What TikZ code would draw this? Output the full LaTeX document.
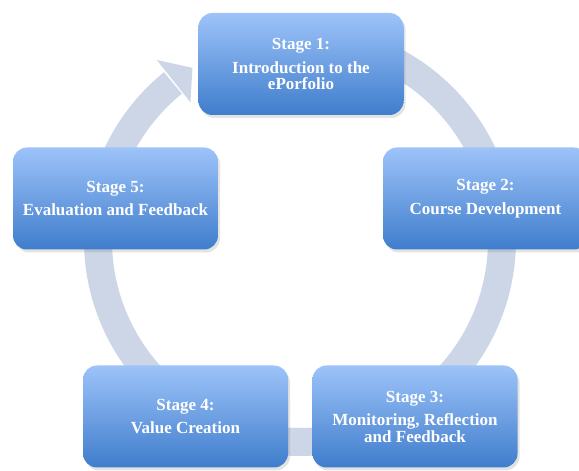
\documentclass[tikz,border=0pt]{standalone}
\usepackage{fontspec}
\setmainfont{Liberation Serif}
\usetikzlibrary{shadows}
\definecolor{ringc}{RGB}{205,214,231}
\definecolor{boxtop}{RGB}{157,195,249}
\definecolor{boxbot}{RGB}{63,125,204}
\begin{document}
\begin{tikzpicture}[x=1pt,y=1pt,
  stagebox/.style={rectangle, rounded corners=14pt, minimum width=205pt,
    minimum height=102pt, top color=boxtop, bottom color=boxbot, draw=none,
    text=white, font=\fontsize{17}{16.5}\selectfont\bfseries, align=center,
    drop shadow={opacity=0.22, shadow xshift=2pt, shadow yshift=-3pt}},
  ringline/.style={ringc, line width=28pt}]
\useasboundingbox (0,0) rectangle (579,471);
\clip (0,0) rectangle (579,471);
\fill[white] (0,0) rectangle (579,471);
\begin{scope}[shift={(300,231)}]
  \draw[ringline] (85:202) arc[start angle=85, end angle=-231, radius=202];
  \fill[ringc] (122:203) -- (128.5:230) -- (128.5:176) -- cycle;
\end{scope}
\node[stagebox] (s1) at (301,407) {Stage 1:\\[7pt]Introduction to the\\ePorfolio};
\node[stagebox] (s2) at (485.5,272.5) {Stage 2:\\[7pt]Course Development};
\node[stagebox] (s3) at (415,54.5) {Stage 3:\\[7pt]Monitoring, Reflection\\and Feedback};
\node[stagebox] (s4) at (185.5,54.5) {Stage 4:\\[7pt]Value Creation};
\node[stagebox] (s5) at (115.5,272.5) {Stage 5:\\[7pt]Evaluation and Feedback};
\end{tikzpicture}
\end{document}
